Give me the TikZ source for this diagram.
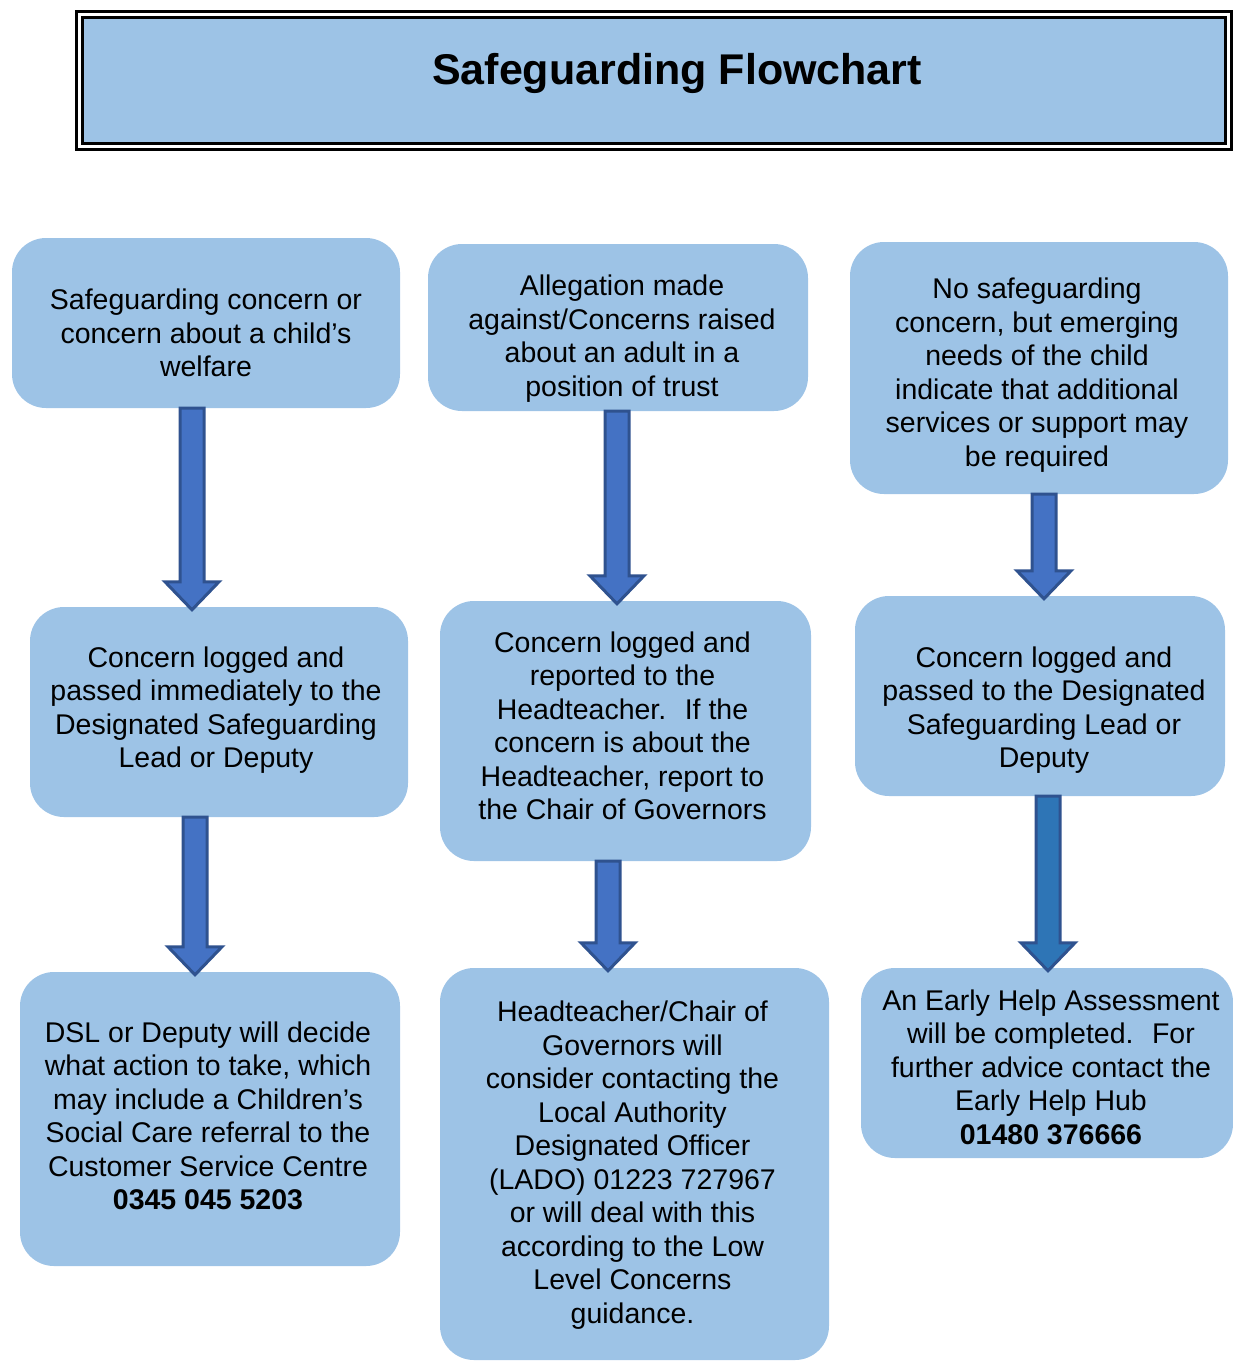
\documentclass[tikz,border=0pt]{standalone}
\usepackage{fontspec}
\setmainfont{Liberation Sans}
\usetikzlibrary{calc}
\definecolor{BoxBlue}{HTML}{9DC3E6}
\definecolor{ArrowBlue}{HTML}{4472C4}
\definecolor{ArrowDeep}{HTML}{2E75B6}
\definecolor{ArrowEdge}{HTML}{2F528F}

\tikzset{
  stepbox/.style={rounded corners=34, fill=BoxBlue, inner sep=0},
  steptext/.style={align=center, inner sep=0, font=\fontsize{28.5}{33.5}\selectfont},
  titlebox/.style={draw=black, line width=3, double=white, double distance=3,
    fill=BoxBlue, inner sep=0},
  titletext/.style={font=\fontsize{43}{50}\selectfont\bfseries, inner sep=0},
  blockarrow/.style={draw=ArrowEdge, line width=3, fill=ArrowBlue, line join=miter},
}

% block arrow: x position, from node, to node
\newcommand{\flowarrow}[4][]{%
  \path (#2,0 |- #3.south) coordinate (arrs) (#2,0 |- #4.north) coordinate (arrt);
  \draw[blockarrow,#1] ($(arrs)+(-12,0)$) -- ($(arrt)+(-12,-25)$) -- ($(arrt)+(-27,-25)$)
    -- ($(arrt)+(0,3)$) -- ($(arrt)+(27,-25)$) -- ($(arrt)+(12,-25)$) -- ($(arrs)+(12,0)$) -- cycle;
}

\begin{document}
\begin{tikzpicture}[x=1pt,y=-1pt]
\useasboundingbox (0,0) rectangle (1233,1361);

% title
\node[titlebox, minimum width=1149, minimum height=132] (title) at (653.5,80.5) {};
\node[titletext, anchor=base] (heading) at (677,84) {Safeguarding Flowchart};

% first row
\node[stepbox, minimum width=388, minimum height=170] (concern) at (206,323) {};
\node[steptext] (concern-t) at ($(concern)+(0,10)$)
  {Safeguarding concern or\\concern about a child’s\\welfare};
\node[stepbox, minimum width=380, minimum height=167] (allegation) at (618,327.5) {};
\node[steptext] (allegation-t) at ($(allegation)+(4,11)$)
  {Allegation made\\against/Concerns raised\\about an adult in a\\position of trust};
\node[stepbox, minimum width=378, minimum height=252] (noconcern) at (1039,368) {};
\node[steptext] (noconcern-t) at ($(noconcern)+(-2,7)$)
  {No safeguarding\\concern, but emerging\\needs of the child\\indicate that additional\\services or support may\\be required};

% second row
\node[stepbox, minimum width=378, minimum height=210] (logdsl) at (219,712) {};
\node[steptext] (logdsl-t) at ($(logdsl)+(-3,-2)$)
  {Concern logged and\\passed immediately to the\\Designated Safeguarding\\Lead or Deputy};
\node[stepbox, minimum width=371, minimum height=260] (loghead) at (625.5,731) {};
\node[steptext] (loghead-t) at ($(loghead)+(-3,-5)$)
  {Concern logged and\\reported to the\\Headteacher.~ If the\\concern is about the\\Headteacher, report to\\the Chair of Governors};
\node[stepbox, minimum width=370, minimum height=200] (logearly) at (1040,696) {};
\node[steptext] (logearly-t) at ($(logearly)+(4,14)$)
  {Concern logged and\\passed to the Designated\\Safeguarding Lead or\\Deputy};

% third row
\node[stepbox, minimum width=380, minimum height=294] (dslaction) at (210,1119) {};
\node[steptext] (dslaction-t) at ($(dslaction)+(-2,-3)$)
  {DSL or Deputy will decide\\what action to take, which\\may include a Children’s\\Social Care referral to the\\Customer Service Centre\\\textbf{0345 045 5203}};
\node[stepbox, minimum width=389, minimum height=392] (lado) at (634.5,1164) {};
\node[steptext] (lado-t) at ($(lado)+(-2,1)$)
  {Headteacher/Chair of\\Governors will\\consider contacting the\\Local Authority\\Designated Officer\\(LADO) 01223 727967\\or will deal with this\\according to the Low\\Level Concerns\\guidance.};
\node[stepbox, minimum width=372, minimum height=190] (earlyhelp) at (1047,1063) {};
\node[steptext] (earlyhelp-t) at ($(earlyhelp)+(4,4)$)
  {An Early Help Assessment\\will be completed.~ For\\further advice contact the\\Early Help Hub\\\textbf{01480 376666}};

% arrows
\flowarrow{192}{concern}{logdsl}
\flowarrow{195}{logdsl}{dslaction}
\flowarrow{617}{allegation}{loghead}
\flowarrow{608}{loghead}{lado}
\flowarrow{1044}{noconcern}{logearly}
\flowarrow[fill=ArrowDeep]{1048}{logearly}{earlyhelp}
\end{tikzpicture}
\end{document}
